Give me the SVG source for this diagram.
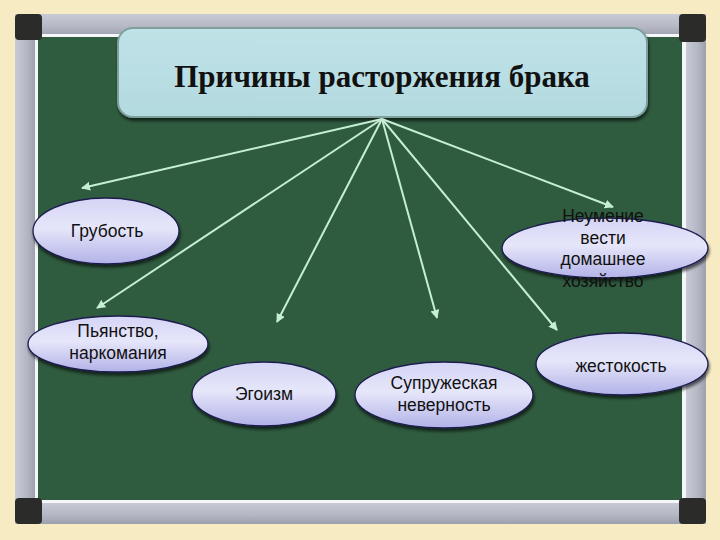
<svg xmlns="http://www.w3.org/2000/svg" width="720" height="540" viewBox="0 0 720 540">
<defs>
<linearGradient id="ell" x1="0" y1="0" x2="0" y2="1">
<stop offset="0" stop-color="#d4d4f5"/>
<stop offset="0.45" stop-color="#e6e6fa"/>
<stop offset="1" stop-color="#b2b2e8"/>
</linearGradient>
<linearGradient id="hbar" x1="0" y1="0" x2="0" y2="1">
<stop offset="0" stop-color="#c8cbd5"/>
<stop offset="0.6" stop-color="#b4b7c3"/>
<stop offset="1" stop-color="#9c9fad"/>
</linearGradient>
<linearGradient id="vbar" x1="0" y1="0" x2="1" y2="0">
<stop offset="0" stop-color="#c8cbd5"/>
<stop offset="0.6" stop-color="#b4b7c3"/>
<stop offset="1" stop-color="#9c9fad"/>
</linearGradient>
<linearGradient id="tbox" x1="0" y1="0" x2="0" y2="1">
<stop offset="0" stop-color="#bfe2e7"/>
<stop offset="1" stop-color="#b3dadf"/>
</linearGradient>
<marker id="ah" viewBox="0 0 10 10" refX="9" refY="5" markerWidth="4.5" markerHeight="4.5" orient="auto" markerUnits="strokeWidth">
<path d="M0,0 L10,5 L0,10 z" fill="#c6eed6"/>
</marker>
<filter id="sh" x="-10%" y="-10%" width="120%" height="130%">
<feGaussianBlur in="SourceAlpha" stdDeviation="1.5"/>
<feOffset dx="1" dy="2.5" result="b"/>
<feComponentTransfer><feFuncA type="linear" slope="0.6"/></feComponentTransfer>
<feMerge><feMergeNode/><feMergeNode in="SourceGraphic"/></feMerge>
</filter>
</defs>
<style>
.lbl{font-family:"Liberation Sans",Arial,sans-serif;font-size:17.5px;fill:#111;text-anchor:middle}
.el{fill:url(#ell);stroke:#1e1e50;stroke-width:1.3;filter:url(#sh)}
.con line{stroke:#c6eed6;stroke-width:2;marker-end:url(#ah)}
</style>
<rect width="720" height="540" fill="#f7ebc3"/>
<g id="board">
<rect x="15" y="14" width="691" height="510" rx="4" fill="#a7aab8"/>
<rect x="15" y="14" width="691" height="22" fill="url(#hbar)"/>
<rect x="15" y="502" width="691" height="22" fill="url(#hbar)"/>
<rect x="15" y="14" width="20" height="510" fill="url(#vbar)"/>
<rect x="686" y="14" width="20" height="510" fill="url(#vbar)"/>
<rect x="35" y="34" width="651" height="469" fill="#f4f6f8"/>
<rect x="38" y="37" width="644" height="463" fill="#2f5b3f"/>
<rect x="15" y="14" width="27" height="26" rx="4" fill="#2b2c2a"/>
<rect x="679" y="14" width="27" height="28" rx="4" fill="#2b2c2a"/>
<rect x="15" y="498" width="27" height="26" rx="4" fill="#2b2c2a"/>
<rect x="679" y="498" width="27" height="26" rx="4" fill="#2b2c2a"/>
</g>
<g id="title">
<rect x="118" y="28" width="529" height="89" rx="15" fill="url(#tbox)" stroke="#7f9f9c" stroke-width="2" filter="url(#sh)"/>
<text x="382" y="87" font-family="'Liberation Serif','Times New Roman',serif" font-size="31" font-weight="bold" fill="#111" text-anchor="middle">Причины расторжения брака</text>
</g>
<g class="con" id="connectors">
<line x1="382" y1="119" x2="82" y2="188"/>
<line x1="382" y1="119" x2="97" y2="308"/>
<line x1="382" y1="119" x2="277" y2="322"/>
<line x1="382" y1="119" x2="437" y2="318"/>
<line x1="382" y1="119" x2="557" y2="330"/>
<line x1="382" y1="119" x2="613" y2="207"/>
</g>
<g id="n-grubost">
<ellipse class="el" cx="106" cy="231" rx="73" ry="33"/>
<text class="lbl" x="107" y="237">Грубость</text>
</g>
<g id="n-pyanstvo">
<ellipse class="el" cx="118" cy="344" rx="90" ry="28"/>
<text class="lbl" x="118" y="337">Пьянство,</text>
<text class="lbl" x="118" y="359">наркомания</text>
</g>
<g id="n-egoizm">
<ellipse class="el" cx="264" cy="394" rx="72" ry="32"/>
<text class="lbl" x="264" y="400">Эгоизм</text>
</g>
<g id="n-nevernost">
<ellipse class="el" cx="444" cy="395" rx="89" ry="33"/>
<text class="lbl" x="444" y="389">Супружеская</text>
<text class="lbl" x="444" y="411">неверность</text>
</g>
<g id="n-zhestokost">
<ellipse class="el" cx="622" cy="364" rx="86" ry="31"/>
<text class="lbl" x="621" y="372">жестокость</text>
</g>
<g id="n-neumenie">
<ellipse class="el" cx="605" cy="248" rx="103" ry="30"/>
<text class="lbl" x="603" y="222">Неумение</text>
<text class="lbl" x="603" y="244">вести</text>
<text class="lbl" x="603" y="265">домашнее</text>
<text class="lbl" x="603" y="287">хозяйство</text>
</g>
</svg>
